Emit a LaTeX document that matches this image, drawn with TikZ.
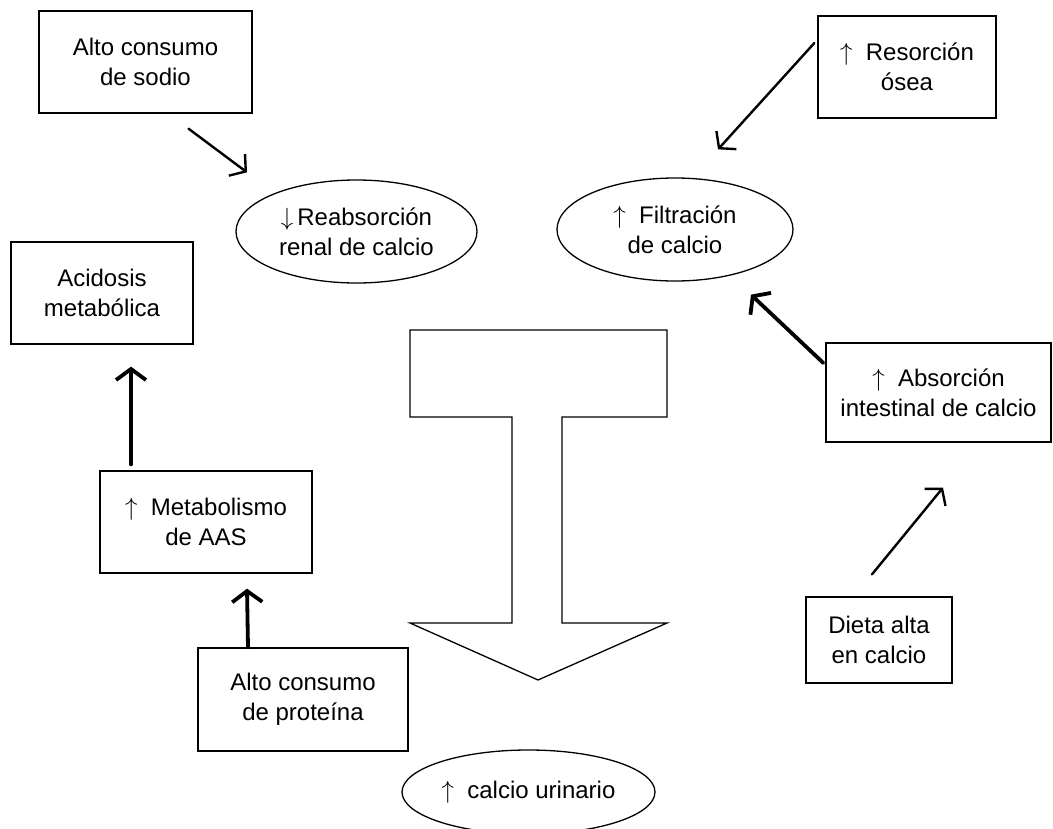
\documentclass[tikz,border=0pt]{standalone}
\usepackage{fontspec}
\setmainfont{Liberation Sans}
\usetikzlibrary{arrows.meta,shapes.geometric}
\begin{document}
\begin{tikzpicture}[x=1pt,y=-1pt,
  txt/.style={align=center,font=\fontsize{24}{30}\selectfont},
  box/.style={txt,draw,line width=1.3pt,rectangle,inner sep=0pt},
  oval/.style={txt,draw,line width=1.3pt,ellipse,inner sep=0pt},
  thinarr/.style={line width=2.4pt,line cap=round,-{Straight Barb[length=11pt,width=27pt]}},
  thickarr/.style={line width=3.8pt,line cap=round,-{Straight Barb[length=11pt,width=30pt]}}]
\clip (0,0) rectangle (1053,828);
\fill[white] (0,0) rectangle (1053,828);
% boxes
\node[box,minimum width=213pt,minimum height=102pt] (sodio) at (145.5,62) {Alto consumo\\de sodio};
\node[box,minimum width=182pt,minimum height=102pt] (acid) at (102,293) {Acidosis\\metabólica};
\node[box,minimum width=212pt,minimum height=102pt] (metab) at (206,522) {$\uparrow$\ \ Metabolismo\\de AAS};
\node[box,minimum width=210pt,minimum height=103pt] (prot) at (303,699.5) {Alto consumo\\de proteína};
\node[box,minimum width=178pt,minimum height=102pt] (res) at (907,67) {$\uparrow$\ \ Resorción\\ósea};
\node[box,minimum width=225pt,minimum height=99pt] (abs) at (938.5,392.5) {$\uparrow$\ \ Absorción\\intestinal de calcio};
\node[box,minimum width=146pt,minimum height=86pt] (dieta) at (879,640) {Dieta alta\\en calcio};
% ellipses
\node[oval,minimum width=241pt,minimum height=103pt] (reab) at (356.5,231.5) {$\downarrow$\,Reabsorción\\renal de calcio};
\node[oval,minimum width=236pt,minimum height=103pt] (fil) at (675,229.5) {$\uparrow$\ \ Filtración\\de calcio};
\node[oval,minimum width=253pt,minimum height=84pt] (uri) at (528.5,792) {$\uparrow$\ \ calcio urinario};
% big T-shaped arrow
\draw[line width=1.3pt,line join=miter] (410,330) -- (667,330) -- (667,417) -- (562,417) -- (562,623)
  -- (667,623) -- (538,680) -- (410,623) -- (512,623) -- (512,417) -- (410,417) -- cycle;
% connectors
\draw[thinarr] ([xshift=43pt,yshift=-15pt]sodio.south) -- ([xshift=-109.5pt,yshift=7pt]reab.north);
\draw[thinarr] ([xshift=-3pt,yshift=24pt]res.west) -- ([xshift=43pt,yshift=28pt]fil.north);
\draw[thickarr] ([xshift=-2pt,yshift=29.5pt]abs.west) -- ([xshift=76pt,yshift=-13pt]fil.south);
\draw[thinarr] ([xshift=-7pt,yshift=22pt]dieta.north) -- ([xshift=4.5pt,yshift=-45pt]abs.south);
\draw[thickarr] ([xshift=-75pt,yshift=6pt]metab.north) -- ([xshift=29pt,yshift=-22pt]acid.south);
\draw[thickarr] ([xshift=-55pt]prot.north) -- ([xshift=41pt,yshift=-15pt]metab.south);
\end{tikzpicture}
\end{document}
